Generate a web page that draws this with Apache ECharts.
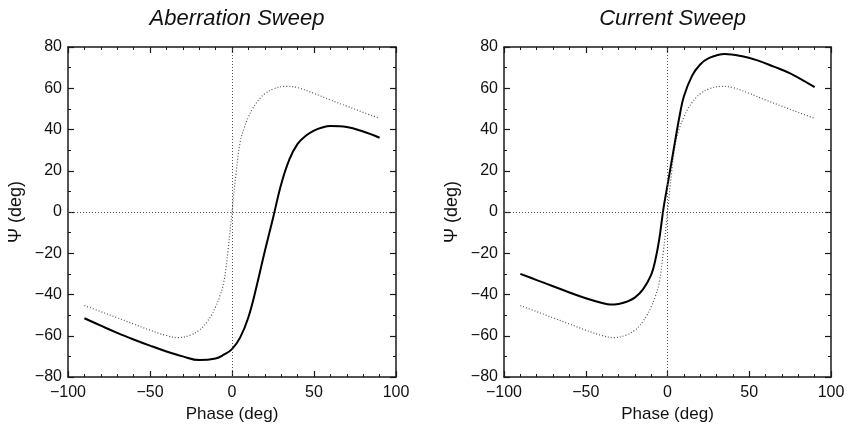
<!DOCTYPE html>
<html>
<head>
<meta charset="utf-8">
<script src="https://cdn.jsdelivr.net/npm/echarts@6/dist/echarts.min.js"></script>
<style>
html,body{margin:0;padding:0;background:#fff;}
#chart{width:848px;height:428px;}
</style>
</head>
<body>
<div id="chart"></div>
<script>
// ---- data ----
const panelTitles = ['Aberration Sweep', 'Current Sweep'];
const xAxisTitle = 'Phase (deg)';
const yAxisTitle = 'Ψ (deg)';
const xTicks = [-100, -50, 0, 50, 100];
const yTicks = [-80, -60, -40, -20, 0, 20, 40, 60, 80];

// dotted reference curve (same in both panels)
const phaseRef = [-90,-80,-70,-60,-50,-40,-33,-25,-20,-17.5,-15,-12.5,-10,-7.5,-5,-2.5,0,2.5,5,7.5,10,12.5,15,17.5,20,25,33,40,50,60,70,80,90];
const psiRef   = [-45.4,-48.3,-51.3,-54.3,-57.3,-59.9,-60.9,-59.6,-57.3,-55.5,-53,-50,-46,-41,-34,-19,0,19,34,41,46,50,53,55.5,57.3,59.6,60.9,60.3,57.5,54.3,51.3,48.3,45.4];

// solid curve, left panel
const phaseAberr = [-90,-80,-70,-60,-50,-40,-30,-20,-10,-5,0,5,10,15,20,25,30,35,40,45,50,55,60,70,80,90];
const psiAberr   = [-51.5,-55.1,-58.6,-61.8,-64.8,-67.6,-70.0,-71.8,-71.0,-69.2,-66.5,-60.8,-51,-36,-19,-3,13.5,25.5,33,37,39.5,41,41.7,41.2,39,36];

// solid curve, right panel
const phaseCurr = [-90,-80,-70,-60,-50,-40,-35,-30,-25,-20,-15,-10,-7.5,-5,-2.5,0,2.5,5,7.5,10,15,20,25,35,45,55,65,75,90];
const psiCurr   = [-30,-33,-36,-39,-41.8,-44.1,-44.9,-44.6,-43.5,-41.5,-37.5,-30.5,-23.5,-13,1.5,13,24.5,36,47,56,66,71.5,74.5,76.6,75.6,73.5,70.5,67.2,60.5];

// ---- helpers ----
const zip = (xs, ys) => xs.map((x, i) => [x, ys[i]]);
const fmt = v => (v < 0 ? '\u2212' + Math.abs(v) : String(v));
const FONT = '"Liberation Sans", Arial, Helvetica, sans-serif';
const AXIS_COLOR = '#1a1a1a';

const grids = [
  {left: 68, top: 47, width: 328, height: 330},
  {left: 504, top: 47, width: 327, height: 330}
];

function xAxis(g, pos) {
  const main = pos === 'bottom';
  return {
    type: 'value', gridIndex: g, position: pos,
    min: xTicks[0], max: xTicks[xTicks.length - 1], interval: xTicks[1] - xTicks[0],
    name: main ? xAxisTitle : '', nameLocation: 'middle', nameGap: 29,
    nameTextStyle: {fontFamily: FONT, fontSize: 17, color: '#111'},
    axisLine: {show: true, onZero: false, lineStyle: {color: AXIS_COLOR, width: 1.5}},
    axisTick: {show: true, inside: true, length: 6, lineStyle: {color: AXIS_COLOR, width: 1.2}},
    minorTick: {show: true, splitNumber: 5, length: 3, lineStyle: {color: AXIS_COLOR, width: 1}},
    axisLabel: {show: main, formatter: fmt, fontFamily: FONT, fontSize: 16, color: '#111', margin: 8},
    splitLine: {show: false}, minorSplitLine: {show: false}
  };
}
function yAxis(g, pos) {
  const main = pos === 'left';
  return {
    type: 'value', gridIndex: g, position: pos,
    min: yTicks[0], max: yTicks[yTicks.length - 1], interval: yTicks[1] - yTicks[0],
    name: main ? yAxisTitle : '', nameLocation: 'middle', nameGap: 43, nameRotate: 90,
    nameTextStyle: {fontFamily: FONT, fontSize: 18, color: '#111'},
    axisLine: {show: true, onZero: false, lineStyle: {color: AXIS_COLOR, width: 1.5}},
    axisTick: {show: true, inside: true, length: 6, lineStyle: {color: AXIS_COLOR, width: 1.2}},
    minorTick: {show: true, splitNumber: 2, length: 3, lineStyle: {color: AXIS_COLOR, width: 1}},
    axisLabel: {show: main, formatter: fmt, fontFamily: FONT, fontSize: 16, color: '#111', margin: 6},
    splitLine: {show: false}, minorSplitLine: {show: false}
  };
}

function solid(idx, xs, ys) {
  return {
    type: 'line', xAxisIndex: idx * 2, yAxisIndex: idx * 2,
    data: zip(xs, ys), smooth: 0.4, showSymbol: false, symbol: 'none',
    lineStyle: {color: '#000', width: 2}, silent: true, z: 3,
    markLine: {
      silent: true, symbol: 'none', label: {show: false},
      lineStyle: {color: '#555', width: 1, type: [1, 2]},
      data: [{xAxis: 0}, {yAxis: 0}]
    }
  };
}
function dotted(idx) {
  return {
    type: 'line', xAxisIndex: idx * 2, yAxisIndex: idx * 2,
    data: zip(phaseRef, psiRef), smooth: 0.4, showSymbol: false, symbol: 'none',
    lineStyle: {color: '#555', width: 1.2, type: [1, 2]}, silent: true, z: 2
  };
}

const option = {
  backgroundColor: '#fff',
  animation: false,
  title: panelTitles.map((t, i) => ({
    text: t, left: grids[i].left + grids[i].width / 2, top: 3, textAlign: 'center',
    textStyle: {fontFamily: FONT, fontSize: 22, fontStyle: 'italic', fontWeight: 'normal', color: '#111'}
  })),
  grid: grids,
  xAxis: [xAxis(0, 'bottom'), xAxis(0, 'top'), xAxis(1, 'bottom'), xAxis(1, 'top')],
  yAxis: [yAxis(0, 'left'), yAxis(0, 'right'), yAxis(1, 'left'), yAxis(1, 'right')],
  series: [
    dotted(0), solid(0, phaseAberr, psiAberr),
    dotted(1), solid(1, phaseCurr, psiCurr)
  ]
};

const chart = echarts.init(document.getElementById('chart'), null, {renderer: 'canvas'});
chart.setOption(option);
</script>
</body>
</html>
